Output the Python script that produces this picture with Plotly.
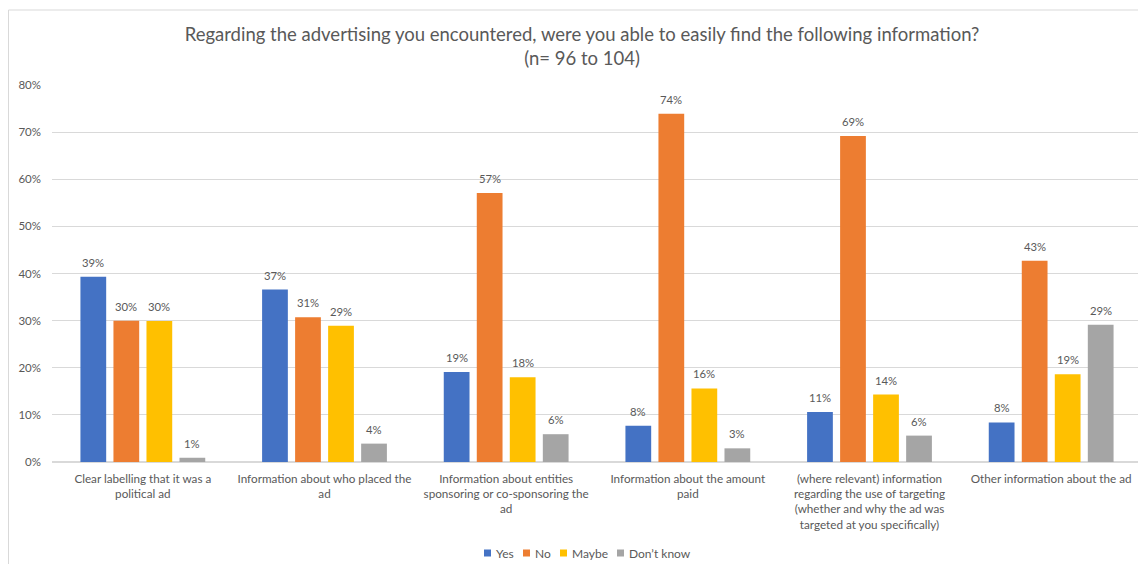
import plotly.graph_objects as go

categories = [
    "Clear labelling that it was a<br>political ad",
    "Information about who placed the<br>ad",
    "Information about entities<br>sponsoring or co-sponsoring the<br>ad",
    "Information about the amount<br>paid",
    "(where relevant) information<br>regarding the use of targeting<br>(whether and why the ad was<br>targeted at you specifically)",
    "Other information about the ad",
]
series_names = ["Yes", "No", "Maybe", "Don\u2019t know"]
yes_vals = [0.393, 0.366, 0.191, 0.077, 0.106, 0.084]
no_vals = [0.300, 0.307, 0.571, 0.739, 0.692, 0.427]
maybe_vals = [0.299, 0.289, 0.180, 0.156, 0.143, 0.186]
dontknow_vals = [0.009, 0.039, 0.059, 0.029, 0.056, 0.291]
colors = ["#4472C4", "#ED7D31", "#FFC000", "#A5A5A5"]

title_text = ("Regarding the advertising you encountered, were you able to easily find the following information?"
              "<br>(n= 96 to 104)")

FONT = "Lato, Liberation Sans, sans-serif"
GREY = "#595959"

all_series = [yes_vals, no_vals, maybe_vals, dontknow_vals]

fig = go.Figure()
for name, vals, col in zip(series_names, all_series, colors):
    fig.add_trace(go.Bar(
        x=categories, y=vals, name=name,
        marker=dict(color=col, line=dict(width=0)),
        showlegend=False,
    ))

# The page body has an 8px margin, so the figure is drawn 8px in from the window edge.
OFF = 8
W, H = 1146 - OFF, 564 - OFF
L, R, T, B = 52 - OFF, W - (1142 - OFF), 85 - OFF, H - (462 - OFF)
pw = W - L - R
ph = H - T - B
BARGAP = 0.273
BARGROUPGAP = 0.22


def px_x(x):
    """window pixel x -> paper coordinate"""
    return (x - OFF - L) / pw


def px_y(y):
    """window pixel y -> paper coordinate"""
    return (H - B - (y - OFF)) / ph


fig.update_layout(
    width=W, height=H,
    margin=dict(l=L, r=R, t=T, b=B, autoexpand=False),
    paper_bgcolor="white", plot_bgcolor="white",
    font=dict(family=FONT, color=GREY, size=11),
    title=dict(text=title_text, x=(582 - OFF) / W, xanchor="center", y=1 - 32.7 / H, yanchor="top",
               font=dict(size=18.5, color=GREY, family=FONT)),
    barmode="group", bargap=BARGAP, bargroupgap=BARGROUPGAP,
    showlegend=False,
)
fig.update_yaxes(range=[0, 0.8], dtick=0.1, tickformat=".0%", showgrid=True,
                 gridcolor="#D9D9D9", gridwidth=1, zeroline=True, zerolinecolor="#D9D9D9",
                 showline=False, ticks="", ticklabelstandoff=10, automargin=False,
                 tickfont=dict(size=11.5, color=GREY, family=FONT))
fig.update_xaxes(showline=True, linecolor="#D9D9D9", ticks="", showgrid=False,
                 automargin=False, ticklabelstandoff=6,
                 tickfont=dict(size=11.7, color=GREY, family=FONT))

# value labels above each bar (placed on the axes' own scales, shifted to the bar's slot)
slot_px = pw / len(categories) * (1 - BARGAP) / len(series_names)
for k, vals in enumerate(all_series):
    shift = (k - (len(series_names) - 1) / 2) * slot_px
    for cat, v in zip(categories, vals):
        fig.add_annotation(x=cat, y=v, xref="x", yref="y", text=f"{round(v * 100)}%",
                           showarrow=False, xanchor="center", yanchor="bottom",
                           xshift=shift, yshift=6,
                           font=dict(size=11.3, color=GREY, family=FONT))

# chart border
fig.add_shape(type="rect", xref="paper", yref="paper",
              x0=px_x(8.5), x1=px_x(1160), y0=px_y(580), y1=px_y(10),
              line=dict(color="#D9D9D9", width=1), fillcolor="rgba(0,0,0,0)", layer="below")

# compact legend, drawn like the reference's
legend_square_x = [484, 523, 560, 617]
legend_y = 553
for name, col, sx in zip(series_names, colors, legend_square_x):
    fig.add_shape(type="rect", xref="paper", yref="paper",
                  x0=px_x(sx), x1=px_x(sx + 7), y0=px_y(legend_y + 3.5), y1=px_y(legend_y - 3.5),
                  line=dict(width=0), fillcolor=col)
    fig.add_annotation(xref="paper", yref="paper", x=px_x(sx + 9.5), y=px_y(legend_y),
                       text=name, showarrow=False, xanchor="left", yanchor="middle",
                       font=dict(size=12, color=GREY, family=FONT))

fig.write_html("out.html")
